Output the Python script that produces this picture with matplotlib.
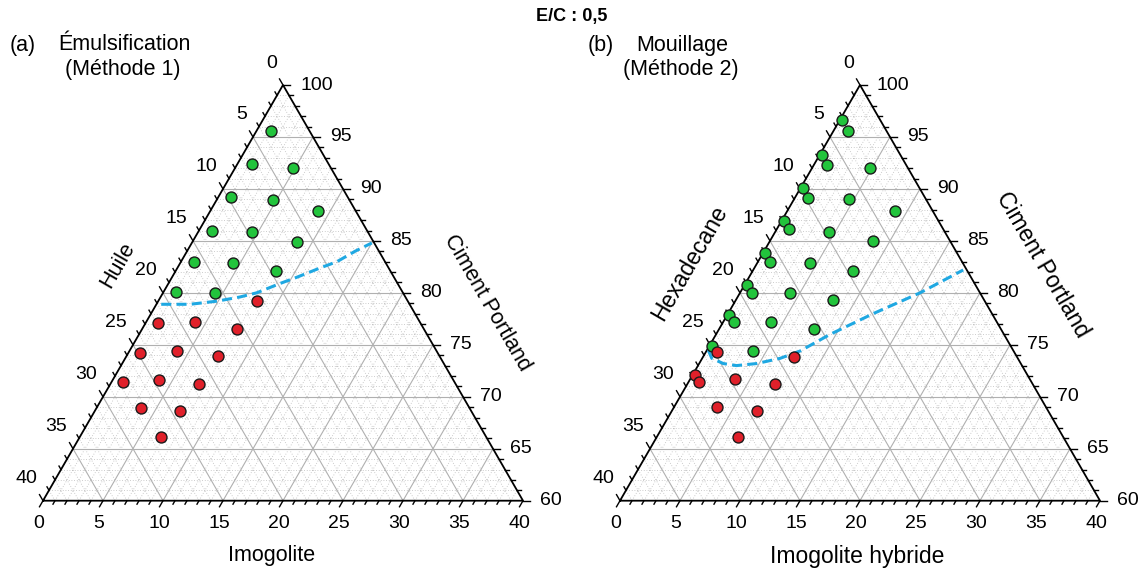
import numpy as np
import matplotlib
matplotlib.use("Agg")
import matplotlib.pyplot as plt

plt.rcParams['font.family'] = ['Liberation Sans', 'DejaVu Sans']

# ---------------- data (Imogolite %, oil %) ; cement = 100 - both ----------------
# Panel (a) Emulsification
emul_green_imo = [1.2, 1.2, 4.8, 1.1, 4.7, 9.0, 1.1, 4.5, 8.7, 1.1, 4.4, 8.4, 1.0, 4.3]
emul_green_oil = [3.2, 6.4, 3.2, 9.7, 6.4, 3.1, 12.9, 9.6, 6.4, 15.9, 12.7, 9.5, 18.9, 15.7]
emul_red_imo = [8.2, 1.0, 4.1, 7.9, 1.0, 4.0, 7.6, 1.0, 3.9, 7.4, 3.7, 7.1, 6.8]
emul_red_oil = [12.6, 21.9, 18.7, 15.6, 24.8, 21.6, 18.5, 27.6, 24.5, 21.4, 27.4, 24.3, 27.1]
emul_limit_imo = [0.4, 2.8, 4.9, 6.6, 7.8, 9.3, 10.4, 11.9, 13.0, 14.0, 15.0]
emul_limit_oil = [20.7, 18.3, 15.9, 13.8, 12.2, 9.8, 8.1, 5.7, 4.0, 2.0, 0.2]

# Panel (b) Mouillage
mouil_green_imo = [0.2, 1.2, 0.2, 1.1, 4.8, 0.2, 1.1, 4.6, 9.0, 0.2, 1.0, 4.5, 8.6,
                   0.2, 1.0, 4.4, 8.4, 0.2, 1.0, 4.2, 8.1, 0.1, 0.9, 4.0, 7.9, 0.2, 3.9]
mouil_green_oil = [3.2, 3.2, 6.5, 6.6, 3.2, 9.7, 9.8, 6.4, 3.1, 12.9, 12.9, 9.6, 6.4,
                   16.0, 16.0, 12.7, 9.5, 19.0, 19.0, 15.8, 12.6, 22.0, 21.9, 18.8, 15.6, 24.9, 21.7]
mouil_red_imo = [0.9, 7.6, 0.2, 0.9, 3.7, 7.3, 3.6, 7.1, 6.8]
mouil_red_oil = [24.8, 18.6, 27.7, 27.7, 24.6, 21.5, 27.4, 24.3, 27.1]
mouil_limit_imo = [0.1, 0.8, 2.0, 3.2, 4.8, 6.5, 7.8, 9.5, 12.1, 15.0, 17.5]
mouil_limit_oil = [25.4, 25.5, 24.8, 23.8, 22.0, 19.8, 17.8, 14.5, 9.9, 5.0, 0.3]

bottom_ticks = [0, 5, 10, 15, 20, 25, 30, 35, 40]
left_ticks = [0, 5, 10, 15, 20, 25, 30, 35, 40]
right_ticks = [100, 95, 90, 85, 80, 75, 70, 65, 60]

GREEN = '#22c43c'
RED = '#e0202a'
BLUE = '#1fa8e2'
S3 = np.sqrt(3) / 2
PX = 1 / 12.0  # one pixel in data units


def xy(imo, oil):
    imo = np.asarray(imo, float)
    oil = np.asarray(oil, float)
    c = 100 - imo - oil - 60
    return imo + c / 2, c * S3


def draw_panel(ax, gimo, goil, rimo, roil, limo, loil, left_title, bottom_title,
               right_title, title_fs, bottom_fs, right_lbl_pos, left_lbl_pos, bottom_lbl_pos):
    # minor dotted grid
    for k in range(1, 40):
        if k % 5 == 0:
            continue
        for (a, b) in [((0, 40 - k), (40 - k, 0)),  # horizontal: cement const
                       ((k, 40 - k), (k, 0)),       # imogolite const
                       ((40 - k, k), (0, k))]:      # oil const
            x0, y0 = xy(*a)
            x1, y1 = xy(*b)
            ax.plot([x0, x1], [y0, y1], color='#bcbcbc', lw=0.6,
                    ls=(0, (1, 2.2)), zorder=1)
    # major grid
    for k in range(5, 40, 5):
        for (a, b) in [((0, 40 - k), (40 - k, 0)),
                       ((k, 40 - k), (k, 0)),
                       ((40 - k, k), (0, k))]:
            x0, y0 = xy(*a)
            x1, y1 = xy(*b)
            ax.plot([x0, x1], [y0, y1], color='#b0b0b0', lw=0.8, zorder=2)
    # triangle frame
    tx, ty = xy([0, 40, 0, 0], [40, 0, 0, 40])
    ax.plot(tx, ty, color='black', lw=1.3, zorder=5, solid_joinstyle='miter')

    # ticks
    for k in range(0, 41):
        L = (7 if k % 5 == 0 else 4) * PX
        # bottom (imogolite) - slanted down-left
        x0, y0 = xy(k, 40 - k)
        ax.plot([x0, x0 - 0.5 * L], [y0, y0 - S3 * L], color='black', lw=1.0, zorder=5)
        # left (oil) - slanted up-left
        x0, y0 = xy(0, k)
        ax.plot([x0, x0 - 0.5 * L], [y0, y0 + S3 * L], color='black', lw=1.0, zorder=5)
        # right (cement) - horizontal
        x0, y0 = xy(40 - k, 0)
        ax.plot([x0, x0 + L], [y0, y0], color='black', lw=1.0, zorder=5)

    fs = 14
    for v in bottom_ticks:
        x0, y0 = xy(v, 40 - v)
        ax.text(x0 - 4 * PX, y0 - 23 * PX, str(v), ha='center', va='center', fontsize=fs)
    for v in left_ticks:
        x0, y0 = xy(0, v)
        ax.text(x0 - 6 * PX, y0 + 22 * PX, str(v), ha='right', va='center', fontsize=fs)
    for v in right_ticks:
        x0, y0 = xy(100 - v, 0)
        ax.text(x0 + 17 * PX, y0, str(v), ha='left', va='center', fontsize=fs)

    # axis titles
    ax.text(*left_lbl_pos, left_title, rotation=60, ha='center', va='center',
            fontsize=title_fs, rotation_mode='anchor')
    ax.text(*right_lbl_pos, right_title, rotation=-60, ha='center', va='center',
            fontsize=title_fs, rotation_mode='anchor')
    ax.text(*bottom_lbl_pos, bottom_title, ha='center', va='center', fontsize=bottom_fs)

    # limit curve
    lx, ly = xy(limo, loil)
    ax.plot(lx, ly, color=BLUE, lw=2.2, ls=(0, (3.3, 1.7)), zorder=6)

    # points
    gx, gy = xy(gimo, goil)
    ax.plot(gx, gy, 'o', ms=7.9, mfc=GREEN, mec='#1a1a1a', mew=1.0, ls='none', zorder=8)
    rx, ry = xy(rimo, roil)
    ax.plot(rx, ry, 'o', ms=7.9, mfc=RED, mec='#1a1a1a', mew=1.0, ls='none', zorder=8)


fig = plt.figure(figsize=(11.45, 5.75), dpi=100)

axa = fig.add_axes([0, 0, 572.5 / 1145, 1])
axa.set_xlim((0 - 43) / 12, (572.5 - 43) / 12)
axa.set_ylim(-74.3 / 12, (575 - 74.3) / 12)
axa.axis('off')

axb = fig.add_axes([572.5 / 1145, 0, 572.5 / 1145, 1])
axb.set_xlim((572.5 - 620) / 12, (1145 - 620) / 12)
axb.set_ylim(-74.3 / 12, (575 - 74.3) / 12)
axb.axis('off')


def pos_a(px, py):
    return ((px - 43) / 12, (500.7 - py) / 12)


def pos_b(px, py):
    return ((px - 620) / 12, (500.7 - py) / 12)


draw_panel(axa, emul_green_imo, emul_green_oil, emul_red_imo, emul_red_oil,
           emul_limit_imo, emul_limit_oil, 'Huile', 'Imogolite', 'Ciment Portland', 15.5, 15.5,
           pos_a(487, 303), pos_a(118, 265), pos_a(272, 556))
draw_panel(axb, mouil_green_imo, mouil_green_oil, mouil_red_imo, mouil_red_oil,
           mouil_limit_imo, mouil_limit_oil, 'Hexadecane', 'Imogolite hybride', 'Ciment Portland', 16.5, 16.5,
           pos_b(1043, 265), pos_b(690, 263), pos_b(857, 556))

H = 575.0
tfs = 15.5
fig.text(572 / 1145, 1 - 17 / H, 'E/C : 0,5', ha='center', va='center', fontsize=13, fontweight='bold')
fig.text(10 / 1145, 1 - 45 / H, '(a)', ha='left', va='center', fontsize=tfs)
fig.text(124 / 1145, 1 - 45 / H, 'Émulsification', ha='center', va='center', fontsize=tfs)
fig.text(123 / 1145, 1 - 70 / H, '(Méthode 1)', ha='center', va='center', fontsize=tfs)
fig.text(588 / 1145, 1 - 45 / H, '(b)', ha='left', va='center', fontsize=tfs)
fig.text(682 / 1145, 1 - 45 / H, 'Mouillage', ha='center', va='center', fontsize=tfs)
fig.text(681 / 1145, 1 - 70 / H, '(Méthode 2)', ha='center', va='center', fontsize=tfs)

fig.savefig('out.png', dpi=100)
